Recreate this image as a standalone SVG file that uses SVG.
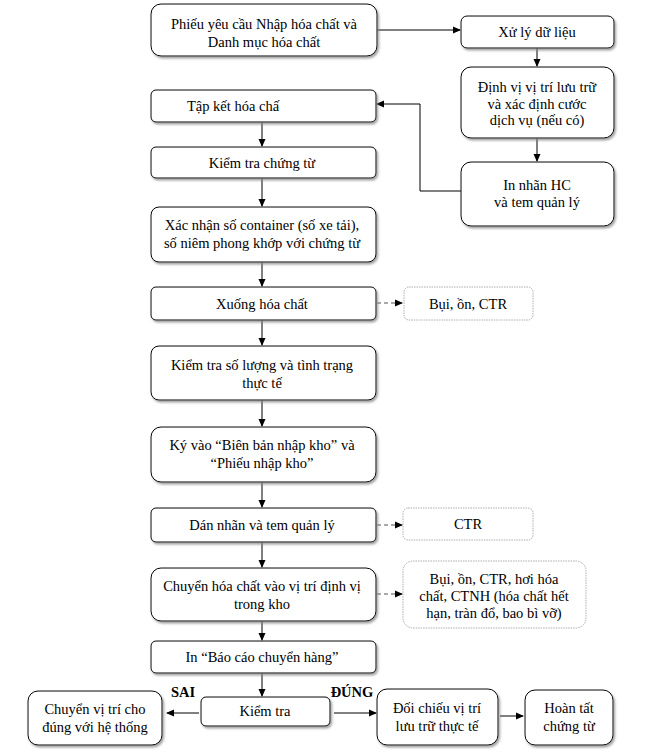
<svg xmlns="http://www.w3.org/2000/svg" width="652" height="753" viewBox="0 0 652 753" font-family="'Liberation Serif', 'Times New Roman', 'DejaVu Serif', serif">
<defs>
<marker id="ah" markerWidth="8" markerHeight="8" refX="7" refY="4" orient="auto" markerUnits="userSpaceOnUse">
<path d="M0,0.5 L8,4 L0,7.5 Z" fill="#000"/>
</marker>
<filter id="sh" x="-10%" y="-10%" width="130%" height="140%">
<feDropShadow dx="1.5" dy="2" stdDeviation="0.8" flood-color="#888" flood-opacity="0.8"/>
</filter>
</defs>
<style>
.b{fill:#fff;stroke:#000;stroke-width:1;filter:url(#sh)}
.d{fill:#fff;stroke:#999;stroke-width:0.8;stroke-dasharray:1.5 1}
text{font-family:'Liberation Serif','Times New Roman','DejaVu Serif',serif;font-size:14.5px;fill:#000;text-anchor:middle}
.bold{font-weight:bold}
.c{stroke:#000;stroke-width:1;fill:none}
.dash{stroke:#555;stroke-width:1.2;fill:none;stroke-dasharray:4 3}
</style>
<rect width="652" height="753" fill="#fff"/>
<g id="connectors">
<line class="c" x1="377" y1="30" x2="460" y2="30" marker-end="url(#ah)"/>
<line class="c" x1="537" y1="48" x2="537" y2="66" marker-end="url(#ah)"/>
<line class="c" x1="537" y1="138" x2="537" y2="161" marker-end="url(#ah)"/>
<polyline class="c" points="461,191 420,191 420,104 377,104" marker-end="url(#ah)"/>
<line class="c" x1="262" y1="122" x2="262" y2="146" marker-end="url(#ah)"/>
<line class="c" x1="262" y1="178" x2="262" y2="206" marker-end="url(#ah)"/>
<line class="c" x1="262" y1="262" x2="262" y2="286" marker-end="url(#ah)"/>
<line class="dash" x1="377" y1="303" x2="402" y2="303" marker-end="url(#ah)"/>
<line class="c" x1="262" y1="320" x2="262" y2="345" marker-end="url(#ah)"/>
<line class="c" x1="262" y1="400" x2="262" y2="426" marker-end="url(#ah)"/>
<line class="c" x1="262" y1="482" x2="262" y2="507" marker-end="url(#ah)"/>
<line class="dash" x1="377" y1="525" x2="402" y2="525" marker-end="url(#ah)"/>
<line class="c" x1="262" y1="542" x2="262" y2="567" marker-end="url(#ah)"/>
<line class="dash" x1="377" y1="594" x2="402" y2="594" marker-end="url(#ah)"/>
<line class="c" x1="262" y1="621" x2="262" y2="640" marker-end="url(#ah)"/>
<line class="c" x1="262" y1="673" x2="262" y2="696" marker-end="url(#ah)"/>
<line class="c" x1="199" y1="713" x2="167" y2="713" stroke-width="1.8" marker-end="url(#ah)"/>
<line class="c" x1="334" y1="713" x2="376" y2="713" stroke-width="1.8" marker-end="url(#ah)"/>
<line class="c" x1="500" y1="716" x2="523" y2="716" marker-end="url(#ah)"/>
</g>
<g id="n1"><rect class="b" x="151" y="4" width="226" height="52" rx="10"/><text x="264" y="29">Phiếu yêu cầu Nhập hóa chất và</text><text x="264" y="47">Danh mục hóa chất</text></g>
<g id="n2"><rect class="b" x="461" y="16" width="153" height="32" rx="6"/><text x="537" y="37">Xử lý dữ liệu</text></g>
<g id="n3"><rect class="b" x="461" y="67" width="153" height="71" rx="10"/><text x="537" y="92">Định vị vị trí lưu trữ</text><text x="537" y="108.5">và xác định cước</text><text x="537" y="125">dịch vụ (nếu có)</text></g>
<g id="n4"><rect class="b" x="461" y="162" width="153" height="64" rx="10"/><text x="537" y="190">In nhãn HC</text><text x="537" y="207">và tem quản lý</text></g>
<g id="n5"><rect class="b" x="151" y="90" width="225" height="32" rx="5"/><text x="233" y="111">Tập kết hóa chấ</text></g>
<g id="n6"><rect class="b" x="151" y="147" width="225" height="31" rx="5"/><text x="262" y="167.5">Kiểm tra chứng từ</text></g>
<g id="n7"><rect class="b" x="151" y="207" width="225" height="55" rx="8"/><text x="262" y="230">Xác nhận số container (số xe tải),</text><text x="262" y="248">số niêm phong khớp với chứng từ</text></g>
<g id="n8"><rect class="b" x="151" y="287" width="225" height="33" rx="5"/><text x="262" y="308.5">Xuống hóa chất</text></g>
<g id="n9"><rect class="d" x="404" y="287" width="129" height="33" rx="5"/><text x="468" y="308.5">Bụi, ồn, CTR</text></g>
<g id="n10"><rect class="b" x="151" y="346" width="225" height="54" rx="8"/><text x="262" y="370">Kiểm tra số lượng và tình trạng</text><text x="262" y="388">thực tế</text></g>
<g id="n11"><rect class="b" x="151" y="427" width="225" height="55" rx="10"/><text x="262" y="450">Ký vào “Biên bản nhập kho” và</text><text x="262" y="468">“Phiếu nhập kho”</text></g>
<g id="n12"><rect class="b" x="151" y="508" width="225" height="34" rx="5"/><text x="262" y="530">Dán nhãn và tem quản lý</text></g>
<g id="n13"><rect class="d" x="403" y="508" width="130" height="32" rx="5"/><text x="468" y="529">CTR</text></g>
<g id="n14"><rect class="b" x="151" y="568" width="225" height="53" rx="10"/><text x="262" y="591">Chuyển hóa chất vào vị trí định vị</text><text x="262" y="609">trong kho</text></g>
<g id="n15"><rect class="d" x="403" y="561" width="183" height="67" rx="10"/><text x="494" y="584">Bụi, ồn, CTR, hơi hóa</text><text x="494" y="601">chất, CTNH (hóa chất hết</text><text x="494" y="618">hạn, tràn đổ, bao bì vỡ)</text></g>
<g id="n16"><rect class="b" x="151" y="641" width="225" height="32" rx="5"/><text x="262" y="662">In “Báo cáo chuyển hàng”</text></g>
<g id="n17"><rect class="b" x="201" y="697" width="129" height="29" rx="5"/><text x="265" y="716">Kiểm tra</text></g>
<g id="n18"><rect class="b" x="28" y="691" width="134" height="54" rx="10"/><text x="95" y="714">Chuyển vị trí cho</text><text x="95" y="732">đúng với hệ thống</text></g>
<g id="n19"><rect class="b" x="377" y="689" width="121" height="56" rx="10"/><text x="437" y="713">Đối chiếu vị trí</text><text x="437" y="731">lưu trữ thực tế</text></g>
<g id="n20"><rect class="b" x="525" y="690" width="88" height="55" rx="10"/><text x="569" y="713">Hoàn tất</text><text x="569" y="731">chứng từ</text></g>
<text class="bold" x="183" y="697">SAI</text>
<text class="bold" x="352" y="697">ĐÚNG</text>
</svg>
